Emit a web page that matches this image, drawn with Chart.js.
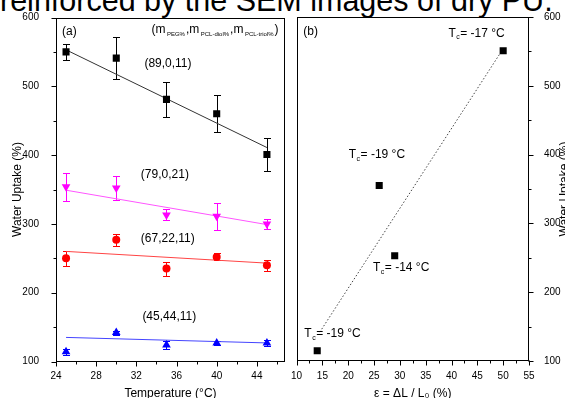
<!DOCTYPE html>
<html><head><meta charset="utf-8">
<script src="https://cdn.jsdelivr.net/npm/chart.js@4.4.1/dist/chart.umd.min.js"></script>
<style>
html,body{margin:0;padding:0;background:#fff;}
#wrap{position:relative;width:565px;height:398px;overflow:hidden;background:#fff;}
#topText{position:absolute;left:0;top:-15.5px;font:30.5px "Liberation Sans",Arial,sans-serif;line-height:30px;white-space:nowrap;color:#000;}
#c1{position:absolute;left:0;top:0;}
#c2{position:absolute;left:290px;top:0;}
</style></head><body>
<div id="wrap">
<div id="topText">reinforced by the SEM images of dry PU.</div>
<canvas id="c1" width="290" height="398"></canvas>
<canvas id="c2" width="275" height="398"></canvas>
</div>
<script>
// ---- data: panel (a) ----
const temperature = [25, 30, 35, 40, 45];
const uptake89 = [550, 541, 481, 460, 401];
const err89 = [12, 30, 25, 27, 24];
const uptake79 = [354, 352, 313, 311, 300];
const err79 = [20, 17, 8, 20, 7];
const uptake67 = [250, 277, 235, 252, 240];
const err67 = [11, 9, 10, 5, 8];
const uptake45 = [114, 142, 124, 127, 127];
const err45 = [4, 3, 6, 3, 4];
const fitTemp = [25, 45];
const fit89 = [553, 411];
const fit79 = [349, 299];
const fit67 = [260, 243];
const fit45 = [135, 127];
const tempTicks = [24, 26, 28, 30, 32, 34, 36, 38, 40, 42, 44, 46];
const tempTickLabels = ['24', '', '28', '', '32', '', '36', '', '40', '', '44', ''];
const uptakeTicks = [100, 150, 200, 250, 300, 350, 400, 450, 500, 550, 600];
const uptakeTickLabels = ['100', '', '200', '', '300', '', '400', '', '500', '', '600'];
// ---- data: panel (b) ----
const strain = [14, 26, 29, 50];
const uptakeStrain = [115, 355, 253, 551];
const tcValues = ['-19', '-19', '-14', '-17'];
const fitStrain = [14.5, 50];
const fitStrainUptake = [142, 554];
const strainTicks = [10, 12.5, 15, 17.5, 20, 22.5, 25, 27.5, 30, 32.5, 35, 37.5, 40, 42.5, 45, 47.5, 50, 52.5, 55];
const strainTickLabels = ['10', '', '15', '', '20', '', '25', '', '30', '', '35', '', '40', '', '45', '', '50', '', '55'];

// ---- layout of text annotations (data coordinates) ----
const tcLabelPos = [[11.5, 139], [20.1, 400], [24.8, 235], [39.4, 576]];

const FONT = '"Liberation Sans", Arial, sans-serif';
const pts = (xs, ys) => xs.map((x, i) => ({x: x, y: ys[i]}));

const frameTicks = {
  id: 'frameTicks',
  afterDraw(chart) {
    const {ctx, chartArea: a} = chart;
    ctx.save();
    ctx.strokeStyle = '#000'; ctx.lineWidth = 1;
    const L = Math.round(a.left) + 0.5, R = Math.round(a.right) - 0.5, T = Math.round(a.top) + 0.5, B = Math.round(a.bottom) - 0.5;
    ctx.strokeRect(L, T, R - L, B - T);
    Object.values(chart.scales).forEach(s => {
      s.ticks.forEach(t => {
        const len = t.label !== '' ? 5 : 3;
        const p = Math.round(s.getPixelForValue(t.value)) + 0.5;
        ctx.beginPath();
        if (s.position === 'bottom') { ctx.moveTo(p, B); ctx.lineTo(p, B + len); }
        else if (s.position === 'left') { ctx.moveTo(L, p); ctx.lineTo(L - len, p); }
        else { ctx.moveTo(R, p); ctx.lineTo(R + len, p); }
        ctx.stroke();
      });
    });
    ctx.restore();
  }
};

const errorBars = {
  id: 'errorBars',
  beforeDatasetsDraw(chart) {
    const {ctx} = chart;
    const xs = chart.scales.x, ys = chart.scales.y;
    chart.data.datasets.forEach(ds => {
      if (!ds.errors) return;
      ctx.save(); ctx.strokeStyle = ds.errorColor; ctx.lineWidth = 1;
      ds.data.forEach((d, j) => {
        const e = ds.errors[j];
        const px = Math.round(xs.getPixelForValue(d.x)) + 0.5;
        const y1 = Math.round(ys.getPixelForValue(d.y + e)) + 0.5;
        const y2 = Math.round(ys.getPixelForValue(d.y - e)) + 0.5;
        ctx.beginPath();
        ctx.moveTo(px, y1); ctx.lineTo(px, y2);
        ctx.moveTo(px - 3.5, y1); ctx.lineTo(px + 3.5, y1);
        ctx.moveTo(px - 3.5, y2); ctx.lineTo(px + 3.5, y2);
        ctx.stroke();
      });
      ctx.restore();
    });
  }
};

function makeNotes(items) {
  return {
    id: 'notes',
    afterDraw(chart) {
      const {ctx} = chart;
      const xs = chart.scales.x, ys = chart.scales.y;
      ctx.save();
      items.forEach(it => {
        let x = xs.getPixelForValue(it.x);
        const y = ys.getPixelForValue(it.y);
        it.parts.forEach(p => {
          const sub = !!p.sub;
          ctx.font = (sub ? p.size || 6 : 12) + 'px ' + FONT;
          ctx.fillStyle = '#000'; ctx.textBaseline = 'middle'; ctx.textAlign = 'left';
          x += (p.gap || 0);
          ctx.fillText(p.t, x, y + (sub ? 4 : 0));
          x += ctx.measureText(p.t).width;
        });
      });
      ctx.restore();
    }
  };
}

function makeSideTitle(text, x, y) {
  return {
    id: 'sideTitle',
    afterDraw(chart) {
      const {ctx} = chart;
      ctx.save();
      ctx.translate(x, y); ctx.rotate(-Math.PI / 2);
      ctx.font = '12px ' + FONT; ctx.fillStyle = '#000';
      ctx.textAlign = 'center'; ctx.textBaseline = 'alphabetic';
      ctx.fillText(text, 0, 0);
      ctx.restore();
    }
  };
}

const tickFont = {size: 10, family: FONT};
const titleFont = {size: 12, family: FONT};

// ---- panel (a) ----
const notesA = [
  {x: 24.6, y: 580, parts: [{t: '(a)'}]},
  {x: 33.5, y: 582, parts: [{t: '(m'}, {t: 'PEG%', sub: true, gap: 1.5}, {t: ',m', gap: 1}, {t: 'PCL-diol%', sub: true, gap: 1.5}, {t: ',m', gap: 1}, {t: 'PCL-triol%', sub: true, gap: 1.5}, {t: ')', gap: 1}]},
  {x: 32.8, y: 533, parts: [{t: '(89,0,11)'}]},
  {x: 32.45, y: 372, parts: [{t: '(79,0,21)'}]},
  {x: 32.45, y: 279, parts: [{t: '(67,22,11)'}]},
  {x: 32.6, y: 165, parts: [{t: '(45,44,11)'}]}
];

new Chart(document.getElementById('c1'), {
  type: 'scatter',
  data: {
    datasets: [
      {data: pts(temperature, uptake89), errors: err89, errorColor: '#000', pointStyle: 'rect', pointRadius: 5, pointBorderWidth: 0, backgroundColor: '#000', borderColor: '#000'},
      {data: pts(temperature, uptake79), errors: err79, errorColor: '#ff00ff', pointStyle: 'triangle', rotation: 180, pointRotation: 180, pointRadius: 5, pointBorderWidth: 0, backgroundColor: '#ff00ff', borderColor: '#ff00ff'},
      {data: pts(temperature, uptake67), errors: err67, errorColor: '#ff0000', pointStyle: 'circle', pointRadius: 4, pointBorderWidth: 0, backgroundColor: '#ff0000', borderColor: '#ff0000'},
      {data: pts(temperature, uptake45), errors: err45, errorColor: '#0000ff', pointStyle: 'triangle', pointRadius: 5, pointBorderWidth: 0, backgroundColor: '#0000ff', borderColor: '#0000ff'},
      {data: pts(fitTemp, fit89), showLine: true, pointRadius: 0, borderWidth: 1, borderColor: '#333333'},
      {data: pts(fitTemp, fit79), showLine: true, pointRadius: 0, borderWidth: 1, borderColor: '#ff55ff'},
      {data: pts(fitTemp, fit67), showLine: true, pointRadius: 0, borderWidth: 1, borderColor: '#ff4444'},
      {data: pts(fitTemp, fit45), showLine: true, pointRadius: 0, borderWidth: 1, borderColor: '#4444ff'}
    ]
  },
  options: {
    responsive: false, animation: false, events: [],
    layout: {padding: {top: 17.5, right: 3, left: 0, bottom: 0}},
    plugins: {legend: {display: false}, tooltip: {enabled: false}},
    scales: {
      x: {
        type: 'linear', position: 'bottom', min: 24, max: 46.8,
        afterBuildTicks: s => { s.ticks = tempTicks.map(v => ({value: v})); },
        afterFit: s => { s.height = 36.5; },
        grid: {display: false}, border: {display: false},
        ticks: {autoSkip: false, maxRotation: 0, padding: 1, color: '#000', font: tickFont,
          callback: v => tempTickLabels[tempTicks.indexOf(v)]},
        title: {display: true, text: 'Temperature (°C)', color: '#000', font: titleFont, padding: {top: 0, bottom: -3}}
      },
      y: {
        type: 'linear', position: 'left', min: 100, max: 600,
        afterBuildTicks: s => { s.ticks = uptakeTicks.map(v => ({value: v})); },
        afterFit: s => { s.width = 56; },
        grid: {display: false}, border: {display: false},
        ticks: {autoSkip: false, padding: 9, color: '#000', font: tickFont,
          callback: v => uptakeTickLabels[uptakeTicks.indexOf(v)]},
        title: {display: true, text: 'Water Uptake (%)', color: '#000', font: titleFont, padding: {top: 10, bottom: 0}}
      }
    }
  },
  plugins: [errorBars, frameTicks, makeNotes(notesA)]
});

// ---- panel (b) ----
const notesB = [{x: 11.3, y: 578, parts: [{t: '(b)'}]}].concat(
  tcValues.map((v, i) => ({x: tcLabelPos[i][0], y: tcLabelPos[i][1],
    parts: [{t: 'T'}, {t: 'c', sub: true, size: 7, gap: 0.5}, {t: '= ' + v + ' °C', gap: 0.5}]}))
);

new Chart(document.getElementById('c2'), {
  type: 'scatter',
  data: {
    datasets: [
      {data: pts(strain, uptakeStrain), pointStyle: 'rect', pointRadius: 5, pointBorderWidth: 0, backgroundColor: '#000', borderColor: '#000'},
      {data: pts(fitStrain, fitStrainUptake), showLine: true, pointRadius: 0, borderWidth: 1, borderColor: '#444444', borderDash: [1.5, 2]}
    ]
  },
  options: {
    responsive: false, animation: false, events: [],
    layout: {padding: {top: 17, right: 0, left: 6, bottom: 0}},
    plugins: {legend: {display: false}, tooltip: {enabled: false}},
    scales: {
      x: {
        type: 'linear', position: 'bottom', min: 10, max: 55,
        afterBuildTicks: s => { s.ticks = strainTicks.map(v => ({value: v})); },
        afterFit: s => { s.height = 37; },
        grid: {display: false}, border: {display: false},
        ticks: {autoSkip: false, maxRotation: 0, padding: 1, color: '#000', font: tickFont,
          callback: v => strainTickLabels[strainTicks.indexOf(v)]},
        title: {display: true, text: 'ε = ΔL / L₀ (%)', color: '#000', font: titleFont, padding: {top: 0, bottom: -3}}
      },
      y: {
        type: 'linear', position: 'right', min: 100, max: 600,
        afterBuildTicks: s => { s.ticks = uptakeTicks.map(v => ({value: v})); },
        afterFit: s => { s.width = 36; },
        grid: {display: false}, border: {display: false},
        ticks: {autoSkip: false, padding: 7, color: '#000', font: tickFont,
          callback: v => uptakeTickLabels[uptakeTicks.indexOf(v)]},
        title: {display: false}
      }
    }
  },
  plugins: [frameTicks, makeNotes(notesB), makeSideTitle('Water Uptake (%)', 278, 189)]
});
</script>
</body></html>
